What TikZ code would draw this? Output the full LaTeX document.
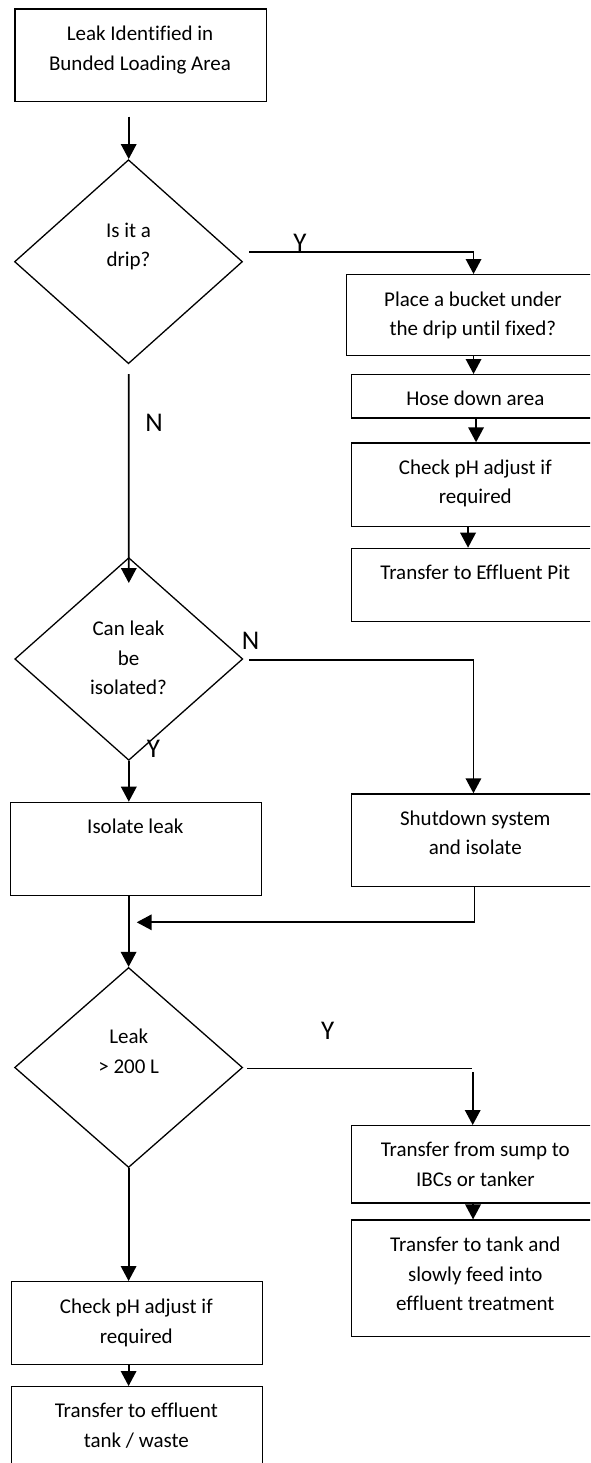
\documentclass[tikz,border=0pt]{standalone}
\usepackage{fontspec}
\setmainfont{Carlito}[Ligatures=NoCommon]
\usetikzlibrary{shapes.geometric,arrows.meta}
% body text, branch labels and a line strut for even line boxes
\newcommand\fs{\fontsize{21pt}{29.5pt}\selectfont}
\newcommand\fl{\fontsize{27pt}{30pt}\selectfont}
\newcommand\ls{\rule[-5pt]{0pt}{24pt}}

\begin{document}
\begin{tikzpicture}[x=1pt,y=-1pt,
  box/.style={draw,line width=1.4pt,rectangle,inner sep=0pt,anchor=north west},
  dia/.style={draw,diamond,inner sep=0pt,line width=1.3pt,minimum width=228pt},
  txt/.style={inner sep=0pt,align=center,font=\fs},
  lab/.style={inner sep=0pt,font=\fl,text height=17.4pt,text depth=0pt},
  arr/.style={line width=1.8pt,-{Triangle[length=15pt,width=15.5pt]}},
  ln/.style={line width=1.2pt}]
\clip (0,0) rectangle (590,1463);

% ---- process boxes ----
\node[box,minimum width=251.4pt,minimum height=92.4pt] (start) at (14.3,8.3) {};
\node[box,minimum width=254.3pt,minimum height=81pt]   (bucket) at (345.7,274) {};
\node[box,minimum width=249.3pt,minimum height=43.3pt] (hose) at (350.7,374) {};
\node[box,minimum width=249.3pt,minimum height=83.4pt] (chk1) at (350.7,442.3) {};
\node[box,minimum width=249.3pt,minimum height=73pt]   (pit) at (350.7,547.7) {};
\node[box,minimum width=249.3pt,minimum height=92.7pt] (shut) at (350.7,793.3) {};
\node[box,minimum width=250.7pt,minimum height=93pt]   (iso) at (10,801.7) {};
\node[box,minimum width=249.3pt,minimum height=77.3pt] (sump) at (350.7,1125) {};
\node[box,minimum width=249.3pt,minimum height=116.4pt] (tank) at (350.7,1219.4) {};
\node[box,minimum width=250.7pt,minimum height=83pt]   (chk2) at (11,1281) {};
\node[box,minimum width=250.7pt,minimum height=100pt]  (waste) at (11,1386) {};

% ---- decisions ----
\node[dia,minimum height=204pt]   (d1) at (128.5,261.7) {};
\node[dia,minimum height=202.7pt] (d2) at (128.8,659) {};
\node[dia,minimum height=200pt]   (d3) at (128.6,1067.5) {};

% ---- texts ----
\node[txt] (t-start)  at (140,48.5)    {\ls Leak Identified in\\\ls Bunded Loading Area};
\node[txt] (t-d1)     at (128.5,245)   {\ls Is it a\\\ls drip?};
\node[txt] (t-bucket) at (472.9,314)   {\ls Place a bucket under\\\ls the drip until fixed?};
\node[txt] (t-hose)   at (475.3,398.3) {\ls Hose down area};
\node[txt] (t-chk1)   at (475.3,482)   {\ls Check pH adjust if\\\ls required};
\node[txt] (t-pit)    at (475.3,572.7) {\ls Transfer to Effluent Pit};
\node[txt] (t-d2)     at (128.5,658)   {\ls Can leak\\\ls be\\\ls isolated?};
\node[txt] (t-iso)    at (135.3,826.7) {\ls Isolate leak};
\node[txt] (t-shut)   at (475.3,833.2) {\ls Shutdown system\\\ls and isolate};
\node[txt] (t-d3)     at (128.7,1051.5){\ls Leak\\\ls > 200 L};
\node[txt] (t-sump)   at (475.3,1164.4){\ls Transfer from sump to\\\ls IBCs or tanker};
\node[txt] (t-tank)   at (475.3,1274.2){\ls Transfer to tank and\\\ls slowly feed into\\\ls effluent treatment};
\node[txt] (t-chk2)   at (136.3,1321.5){\ls Check pH adjust if\\\ls required};
\node[txt] (t-waste)  at (136.3,1425.5){\ls Transfer to effluent\\\ls tank / waste};

% ---- branch labels ----
\node[lab] (y1) at (300,243)     {Y};
\node[lab] (n1) at (154,423)     {N};
\node[lab] (n2) at (250.5,640.3) {N};
\node[lab] (y2) at (153.5,749)   {Y};
\node[lab] (y3) at (327.7,1030.7){Y};

% ---- free line ends ----
\coordinate (c-a0)  at (128.7,116.7);
\coordinate (c-y1)  at (249.3,251.7);
\coordinate (c-n1)  at (128.7,374);
\coordinate (c-n2)  at (249.3,659.7);
\coordinate (c-join) at (136.7,922.3);
\coordinate (c-y3)  at (247.3,1068.7);
\coordinate (c-y3e) at (471.7,1068.7);
\coordinate (c-y3a) at (472.7,1072);

% ---- connectors ----
\draw[arr] (c-a0) -- (c-a0 |- d1.north);
\draw[arr] (c-y1) -| (bucket.north);
\draw[arr] (bucket.south) -- (bucket.south |- hose.north);
\draw[arr] (hose.south) -- (hose.south |- chk1.north);
\draw[arr] ([xshift=-8pt]chk1.south) -- ([xshift=-8pt]chk1.south |- pit.north);
\draw[arr] (c-n1) -- ([yshift=-26pt]d2.north);
\draw[arr] (c-n2) -| ([xshift=-2.6pt]shut.north);
\draw[arr] (d2.south) -- (d2.south |- iso.north);
\draw[arr] ([xshift=-1.6pt]shut.south) |- (c-join);
\draw[arr] (d3.north |- iso.south) -- (d3.north);
\draw[ln]  (c-y3) -- (c-y3e);
\draw[arr] (c-y3a) -- (c-y3a |- sump.north);
\draw[arr] ([xshift=-3pt]sump.south) -- ([xshift=-3pt]sump.south |- tank.north);
\draw[arr] (d3.south) -- (d3.south |- chk2.north);
\draw[arr] (chk2.south -| d3.south) -- (waste.north -| d3.south);
\end{tikzpicture}
\end{document}
